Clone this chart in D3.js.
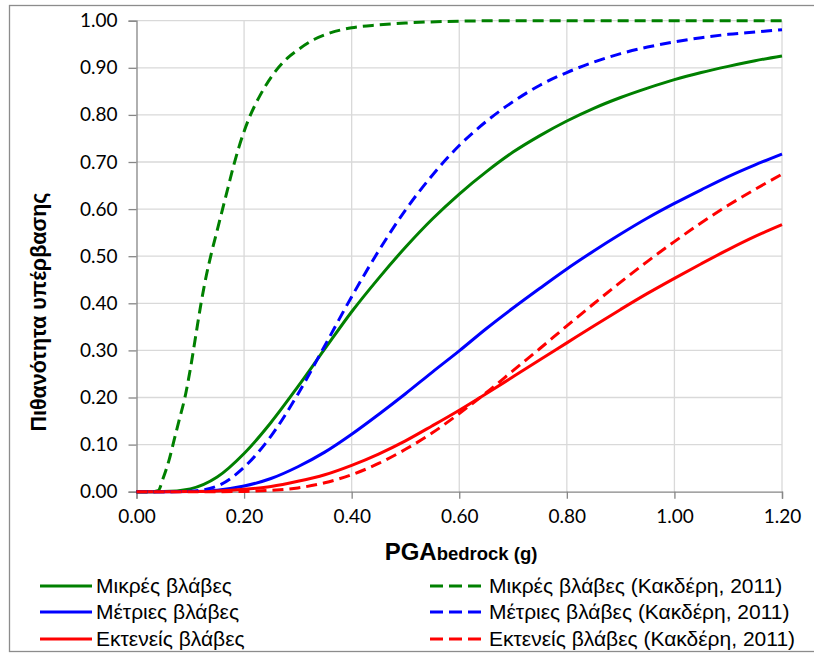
<!DOCTYPE html>
<html>
<head>
<meta charset="utf-8">
<script src="https://cdn.jsdelivr.net/npm/d3@7"></script>
<style>
  body { margin: 0; background: #fff; }
  svg { display: block; }
</style>
</head>
<body>
<script>
// PGA grid (g) shared by most curves
var pga = [0, 0.05, 0.10, 0.15, 0.20, 0.25, 0.30, 0.35, 0.40, 0.45, 0.50, 0.55, 0.60,
	0.65, 0.70, 0.75, 0.80, 0.85, 0.90, 0.95, 1.00, 1.05, 1.10, 1.15, 1.20];

var minorDamage = [0, 0.0002, 0.006, 0.031, 0.081, 0.147, 0.223, 0.303, 0.382, 0.453, 0.519, 0.579, 0.632,
	0.679, 0.721, 0.756, 0.787, 0.814, 0.837, 0.857, 0.875, 0.890, 0.903, 0.915, 0.925];
var moderateDamage = [0, 0, 0.0004, 0.0033, 0.012, 0.028, 0.053, 0.084, 0.122, 0.164, 0.208, 0.254, 0.299,
	0.346, 0.390, 0.432, 0.473, 0.511, 0.547, 0.581, 0.612, 0.641, 0.669, 0.694, 0.717];
var extensiveDamage = [0, 0, 0.0002, 0.0015, 0.005, 0.011, 0.022, 0.036, 0.056, 0.080, 0.108, 0.140, 0.173,
	0.208, 0.244, 0.280, 0.316, 0.352, 0.387, 0.421, 0.453, 0.484, 0.514, 0.542, 0.567];

// Kakderi (2011) curves
var pgaKakMinor = [0, 0.03, 0.04, 0.05, 0.06, 0.07, 0.08, 0.09, 0.10, 0.11, 0.12, 0.13, 0.14, 0.15, 0.16,
	0.17, 0.18, 0.19, 0.20, 0.21, 0.22, 0.23, 0.24, 0.26, 0.28, 0.30, 0.33, 0.36, 0.40, 0.45, 0.50, 0.60,
	0.70, 0.80, 1.00, 1.20];
var kakMinor = [0, 0, 0.002, 0.03, 0.065, 0.11, 0.155, 0.20, 0.26, 0.33, 0.40, 0.46, 0.51, 0.555, 0.60,
	0.645, 0.69, 0.73, 0.765, 0.795, 0.82, 0.842, 0.862, 0.895, 0.92, 0.938, 0.96, 0.974, 0.985, 0.991,
	0.995, 0.999, 1.0, 1.0, 1.0, 1.0];
var kakModerate = [0, 0, 0.001, 0.012, 0.052, 0.118, 0.207, 0.310, 0.414, 0.511, 0.598, 0.672, 0.735,
	0.786, 0.828, 0.863, 0.890, 0.912, 0.930, 0.944, 0.955, 0.964, 0.971, 0.976, 0.981];
var kakExtensive = [0, 0, 0, 0.0001, 0.0006, 0.003, 0.008, 0.019, 0.036, 0.060, 0.090, 0.125, 0.166,
	0.210, 0.257, 0.304, 0.352, 0.399, 0.445, 0.489, 0.531, 0.571, 0.608, 0.642, 0.674];

var xTicks = [0, 0.2, 0.4, 0.6, 0.8, 1.0, 1.2];
var yTicks = [0, 0.1, 0.2, 0.3, 0.4, 0.5, 0.6, 0.7, 0.8, 0.9, 1.0];

var seriesNames = ["Μικρές βλάβες", "Μέτριες βλάβες", "Εκτενείς βλάβες"];
var kakNames = ["Μικρές βλάβες (Κακδέρη, 2011)", "Μέτριες βλάβες (Κακδέρη, 2011)", "Εκτενείς βλάβες (Κακδέρη, 2011)"];
var colors = ["#008000", "#0000ff", "#ff0000"];

var series = [
	{ x: pga, y: minorDamage, color: colors[0], dashed: false },
	{ x: pga, y: moderateDamage, color: colors[1], dashed: false },
	{ x: pga, y: extensiveDamage, color: colors[2], dashed: false },
	{ x: pgaKakMinor, y: kakMinor, color: colors[0], dashed: true },
	{ x: pga, y: kakModerate, color: colors[1], dashed: true },
	{ x: pga, y: kakExtensive, color: colors[2], dashed: true }
];

(function () {
	var width = 814, height = 654;
	var plotLeft = 136.5, plotRight = 782, plotTop = 20.7, plotBottom = 491.7;
	var dash = "11,6";
	var textFont = "'Liberation Sans', Arial, sans-serif";

	var svg = d3.select("body").append("svg")
		.attr("width", width)
		.attr("height", height);

	// chart border
	svg.append("rect")
		.attr("x", 9.5).attr("y", 5.5)
		.attr("width", 820).attr("height", 646)
		.attr("fill", "none")
		.attr("stroke", "#8c8c8c")
		.attr("stroke-width", 1.3);

	var x = d3.scaleLinear().domain([0, 1.2]).range([plotLeft, plotRight]);
	var y = d3.scaleLinear().domain([0, 1]).range([plotBottom, plotTop]);

	// gridlines
	svg.append("g").selectAll("line")
		.data(yTicks.slice(1))
		.enter().append("line")
		.attr("x1", plotLeft).attr("x2", plotRight)
		.attr("y1", function (d) { return y(d); })
		.attr("y2", function (d) { return y(d); })
		.attr("stroke", "#d9d9d9").attr("stroke-width", 1.3);

	svg.append("g").selectAll("line")
		.data(xTicks.slice(1))
		.enter().append("line")
		.attr("y1", plotTop).attr("y2", plotBottom)
		.attr("x1", function (d) { return x(d); })
		.attr("x2", function (d) { return x(d); })
		.attr("stroke", "#d9d9d9").attr("stroke-width", 1.3);

	// axes
	var fmt = d3.format(".2f");
	var yAxis = svg.append("g")
		.attr("transform", "translate(" + plotLeft + ",0)")
		.call(d3.axisLeft(y).tickValues(yTicks).tickSize(8).tickPadding(11).tickFormat(fmt));
	var xAxis = svg.append("g")
		.attr("transform", "translate(0," + plotBottom + ")")
		.call(d3.axisBottom(x).tickValues(xTicks).tickSize(7).tickPadding(11).tickFormat(fmt));

	[xAxis, yAxis].forEach(function (a) {
		a.select(".domain").attr("stroke", "#868686").attr("stroke-width", 1.3);
		a.selectAll(".tick line").attr("stroke", "#868686").attr("stroke-width", 1.3);
		a.selectAll(".tick text")
			.attr("fill", "#000")
			.style("font-family", "Lato, sans-serif")
			.style("font-size", "19px");
	});

	// curves
	var line = d3.line().curve(d3.curveMonotoneX);
	svg.append("g").selectAll("path")
		.data(series)
		.enter().append("path")
		.attr("d", function (s) {
			return line(s.x.map(function (v, i) { return [x(v), y(s.y[i])]; }));
		})
		.attr("fill", "none")
		.attr("stroke", function (s) { return s.color; })
		.attr("stroke-width", 3)
		.attr("stroke-dasharray", function (s) { return s.dashed ? dash : null; });

	// axis titles
	svg.append("text")
		.attr("transform", "translate(46,312) rotate(-90)")
		.attr("text-anchor", "middle")
		.style("font-family", textFont)
		.style("font-weight", "bold")
		.style("font-size", "21.5px")
		.text("Πιθανότητα υπέρβασης");

	var xTitle = svg.append("text")
		.attr("x", 461).attr("y", 560)
		.attr("text-anchor", "middle")
		.style("font-family", textFont)
		.style("font-weight", "bold");
	xTitle.append("tspan").style("font-size", "24px").text("PGA");
	xTitle.append("tspan").style("font-size", "18.5px").text("bedrock (g)");

	// legend
	var legendRows = [586, 612, 639];
	var legend = svg.append("g")
		.style("font-family", textFont)
		.style("font-size", "21px");

	seriesNames.forEach(function (name, i) {
		legend.append("line")
			.attr("x1", 40).attr("x2", 92)
			.attr("y1", legendRows[i]).attr("y2", legendRows[i])
			.attr("stroke", colors[i]).attr("stroke-width", 3);
		legend.append("text")
			.attr("x", 96).attr("y", legendRows[i]).attr("dy", "0.35em")
			.attr("fill", "#000")
			.text(name);
	});

	kakNames.forEach(function (name, i) {
		legend.append("line")
			.attr("x1", 430).attr("x2", 483)
			.attr("y1", legendRows[i]).attr("y2", legendRows[i])
			.attr("stroke", colors[i]).attr("stroke-width", 3)
			.attr("stroke-dasharray", "13,6");
		legend.append("text")
			.attr("x", 489).attr("y", legendRows[i]).attr("dy", "0.35em")
			.attr("fill", "#000")
			.text(name);
	});
})();
</script>
</body>
</html>
